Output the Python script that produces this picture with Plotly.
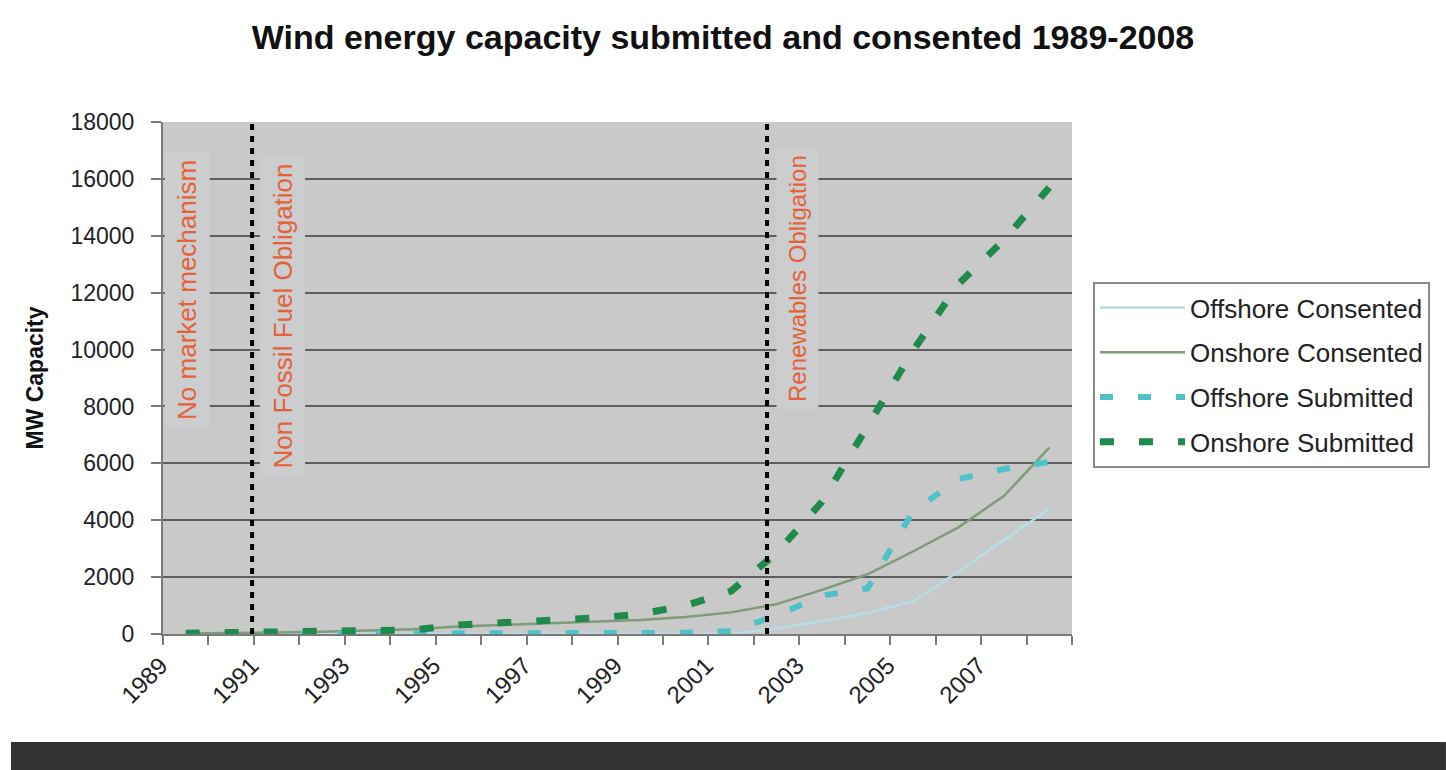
import plotly.graph_objects as go

# Capacity (MW) by year, 1989-2008
years = list(range(1989, 2009))
offshore_consented = [0, 0, 0, 0, 0, 0, 0, 0, 0, 0, 0, 0, 0,
                      200, 450, 750, 1150, 2200, 3300, 4400]
onshore_consented = [20, 30, 50, 80, 120, 170, 260, 320, 380, 430, 490, 600, 760,
                     1050, 1550, 2100, 2900, 3750, 4850, 6550]
offshore_submitted = [0, 0, 0, 0, 0, 0, 40, 40, 40, 40, 40, 40, 100,
                      650, 1350, 1600, 4300, 5450, 5800, 6050]
onshore_submitted = [30, 40, 60, 80, 100, 140, 320, 390, 460, 560, 700, 1000, 1510,
                     2850, 4650, 7350, 9950, 12300, 13850, 15700]

tick_years = list(range(1989, 2008, 2))
tick_labels = [str(y) for y in tick_years]

# Policy periods: label, label position (year, MW), start of the mechanism, font size
policies = [
    ("No market mechanism", 1989.03, 12100, None, 26),
    ("Non Fossil Fuel Obligation", 1991.14, 11200, 1990.46, 26),
    ("Renewables Obligation", 2002.45, 12480, 2001.79, 24),
]

FONT = "Arial, Liberation Sans, sans-serif"

series = [
    ("Offshore Consented", offshore_consented, dict(color="#b8dde9", width=2.5, dash="solid")),
    ("Onshore Consented", onshore_consented, dict(color="#7f9c78", width=2.5, dash="solid")),
    ("Offshore Submitted", offshore_submitted, dict(color="#4fc2c8", width=6, dash="13px,25px")),
    ("Onshore Submitted", onshore_submitted, dict(color="#1f8a4c", width=7, dash="14px,25px")),
]

fig = go.Figure()
for i, (name, vals, line) in enumerate(series):
    fig.add_trace(go.Scatter(
        x=years, y=vals, name=name, mode="lines", line=line,
        legendgroup=f"g{i}", hoverinfo="x+y+name",
    ))

shapes = []
annotations = []
for label, lx, ly, start, fsize in policies:
    if start is not None:
        shapes.append(dict(
            type="line", xref="x", yref="y", x0=start, x1=start, y0=0, y1=18000,
            line=dict(color="black", width=4, dash="6px,6px"), layer="above",
        ))
    annotations.append(dict(
        x=lx, y=ly, xref="x", yref="y", text=label, showarrow=False,
        textangle=-90, xanchor="center", yanchor="middle",
        font=dict(family=FONT, size=fsize, color="#e4623a"),
        bgcolor="#cbcdcf", borderpad=7,
    ))

# dark band along the bottom edge of the page
shapes.append(dict(
    type="rect", xref="paper", yref="paper", x0=-0.1672, x1=1.4114,
    y0=-0.2656, y1=-0.2109, fillcolor="#333333", line=dict(width=0), layer="above",
))

fig.update_layout(
    width=1446, height=770,
    margin=dict(l=163, r=374, t=122, b=136),
    paper_bgcolor="white",
    plot_bgcolor="#c9c9c9",
    font=dict(family=FONT, size=23, color="#222222"),
    title=dict(
        text="<b>Wind energy capacity submitted and consented 1989-2008</b>",
        x=0.5, xref="container", xanchor="center",
        y=1 - 37 / 770, yref="container", yanchor="middle",
        font=dict(family=FONT, size=34, color="#111111"),
    ),
    xaxis=dict(
        range=[1988.5, 2008.5],
        tickmode="array", tickvals=tick_years, ticktext=tick_labels,
        tickangle=-45, ticks="", showgrid=False, zeroline=False,
        showline=True, linecolor="#7a7a7a", linewidth=2,
        tickfont=dict(family=FONT, size=24, color="#222222"),
        ticklabelshift=-25, ticklabelstandoff=6,
        minor=dict(tick0=1988.5, dtick=1, ticks="outside", ticklen=9,
                   tickcolor="#7a7a7a", tickwidth=2, showgrid=False),
    ),
    yaxis=dict(
        range=[0, 18000], dtick=2000, tick0=0, tickformat="d",
        showgrid=True, gridcolor="#5e5e5e", gridwidth=2,
        zeroline=False, showline=True, linecolor="#7a7a7a", linewidth=2,
        ticks="outside", ticklen=10, tickcolor="#7a7a7a", tickwidth=2,
        ticklabelstandoff=12,
        tickfont=dict(family=FONT, size=23, color="#222222"),
        title=dict(text="<b>MW Capacity</b>", standoff=20,
                   font=dict(family=FONT, size=23, color="#111111")),
    ),
    legend=dict(
        x=1.0231, y=0.6875, xanchor="left", yanchor="top",
        bgcolor="white", bordercolor="#8a8a8a", borderwidth=2,
        font=dict(family=FONT, size=26, color="#222222"),
        tracegroupgap=8, itemwidth=85,
    ),
    shapes=shapes,
    annotations=annotations,
)

fig.write_html("out.html")
